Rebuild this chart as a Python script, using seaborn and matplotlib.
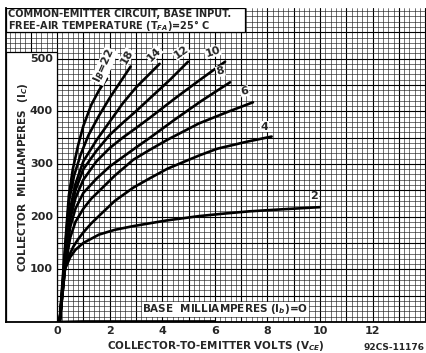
import matplotlib
matplotlib.use("Agg")
import matplotlib.pyplot as plt
import seaborn as sns
import pandas as pd
from matplotlib.ticker import MultipleLocator, FuncFormatter
from matplotlib.patches import Rectangle

# --- Curve data (VCE in volts, IC in mA) ---
ib_values = [0, 2, 4, 6, 8, 10, 12, 14, 18, 22]

vce_ib0 = [0.1, 1.0, 2.0, 3.0, 4.0, 5.0, 6.0]
ic_ib0 = [0, 1, 1, 1, 1, 1, 1]

vce_ib2 = [0.1, 0.2, 0.3, 0.5, 0.7, 1.0, 1.6, 2.2, 2.9, 3.6, 4.2, 5.4, 6.4, 7.3, 8.6, 10.0]
ic_ib2 = [0, 50, 100, 123, 137, 150, 166, 175, 182, 188, 193, 201, 206, 210, 214, 218]

vce_ib4 = [0.1, 0.3, 0.45, 0.62, 0.8, 1.0, 1.3, 1.63, 2.2, 2.9, 3.5, 4.2, 5.4, 6.1, 7.2, 8.16]
ic_ib4 = [0, 100, 125, 143, 157, 170, 187, 203, 230, 255, 272, 291, 316, 329, 342, 352]

vce_ib6 = [0.1, 0.3, 0.5, 0.7, 1.0, 1.3, 1.63, 2.2, 2.9, 3.5, 4.2, 5.4, 6.5, 7.45]
ic_ib6 = [0, 100, 160, 190, 215, 234, 250, 278, 308, 326, 346, 377, 399, 417]

vce_ib8 = [0.1, 0.3, 0.5, 0.7, 1.0, 1.5, 2.0, 2.97, 3.54, 4.5, 5.5, 6.58]
ic_ib8 = [0, 110, 180, 215, 245, 272, 295, 330, 350, 385, 420, 455]

vce_ib10 = [0.1, 0.3, 0.5, 0.7, 1.0, 1.5, 2.0, 2.5, 3.0, 3.54, 4.5, 5.5, 6.39]
ic_ib10 = [0, 115, 195, 235, 270, 305, 330, 350, 368, 388, 425, 462, 494]

vce_ib12 = [0.1, 0.3, 0.5, 0.7, 1.0, 1.5, 2.0, 2.5, 3.0, 3.54, 4.3, 4.98]
ic_ib12 = [0, 118, 205, 250, 290, 325, 355, 378, 400, 425, 460, 494]

vce_ib14 = [0.1, 0.3, 0.5, 0.7, 1.0, 1.5, 2.0, 2.5, 3.0, 3.5, 3.9]
ic_ib14 = [0, 120, 215, 262, 305, 345, 380, 415, 445, 470, 490]

vce_ib18 = [0.1, 0.3, 0.45, 0.65, 0.9, 1.2, 1.6, 2.0, 2.4, 2.8]
ic_ib18 = [0, 130, 228, 278, 318, 355, 392, 425, 455, 485]

vce_ib22 = [0.1, 0.3, 0.45, 0.6, 0.8, 1.0, 1.3, 1.6, 1.9]
ic_ib22 = [0, 140, 240, 290, 335, 372, 412, 440, 462]

curve_labels = ["2", "4", "6", "8", "10", "12", "14", "18", "I$_B$=22"]
label_rot = [0, 0, 12, 15, 18, 35, 45, 60, 66]
label_dx = [-4, -5, -6, -7, -9, -5, -4, -3, -2]   # points
label_dy = [8, 7, 8, 8, 7, 7, 7, 7, 9]

x_ticks = [0, 2, 4, 6, 8, 10, 12]
y_ticks = [100, 200, 300, 400, 500]

curves = [(vce_ib0, ic_ib0), (vce_ib2, ic_ib2), (vce_ib4, ic_ib4), (vce_ib6, ic_ib6),
          (vce_ib8, ic_ib8), (vce_ib10, ic_ib10), (vce_ib12, ic_ib12),
          (vce_ib14, ic_ib14), (vce_ib18, ic_ib18), (vce_ib22, ic_ib22)]

rows = []
for ib, (vs, cs) in zip(ib_values, curves):
    for v, c in zip(vs, cs):
        rows.append({"ib": ib, "vce": v, "ic": c})
df = pd.DataFrame(rows)

sns.set_style("white")
plt.rcParams['font.family'] = ['DejaVu Sans']
plt.rcParams['font.weight'] = 'bold'

fig = plt.figure(figsize=(4.26, 3.53), dpi=100)
ax = fig.add_axes([6 / 426, 31 / 353, 420 / 426, 314 / 353])

ax.set_xlim(-1.94, 14.03)
ax.set_ylim(0, 596)

# graph-paper grid
ax.xaxis.set_major_locator(MultipleLocator(1))
ax.xaxis.set_minor_locator(MultipleLocator(0.2))
ax.yaxis.set_major_locator(MultipleLocator(50))
ax.yaxis.set_minor_locator(MultipleLocator(10))
ax.grid(which='major', color='black', linewidth=0.8)
ax.grid(which='minor', color='#222222', linewidth=0.45)
ax.set_axisbelow(True)
ax.tick_params(which='both', length=0)
ax.xaxis.set_major_formatter(FuncFormatter(
    lambda v, p: "%d" % v if (round(v) in x_ticks and abs(v - round(v)) < 1e-6) else ""))
ax.tick_params(axis='x', labelsize=8, pad=3)
ax.set_yticklabels([])

for s in ['top', 'right']:
    ax.spines[s].set_visible(False)
for s in ['left', 'bottom']:
    ax.spines[s].set_color('black')
    ax.spines[s].set_linewidth(1.3)

sns.lineplot(data=df, x="vce", y="ic", units="ib", estimator=None, sort=False,
             color="black", linewidth=1.9, ax=ax, legend=False, zorder=3)

# white boxes for title and y labels
ax.add_patch(Rectangle((-1.94, 0), 1.94, 512, facecolor='white', edgecolor='black',
                       linewidth=0.9, zorder=2))
ax.add_patch(Rectangle((-1.94, 550), 9.1, 46, facecolor='white', edgecolor='black',
                       linewidth=0.9, zorder=2))

for yv in y_ticks:
    ax.text(-0.15, yv, str(yv), ha='right', va='center', fontsize=8, zorder=4)

ax.text(-1.85, 584, "COMMON-EMITTER CIRCUIT, BASE INPUT.", ha='left', va='center',
        fontsize=7, zorder=4)
ax.text(-1.85, 563, "FREE-AIR TEMPERATURE (T$_{FA}$)=25° C", ha='left', va='center',
        fontsize=7, zorder=4)
ax.text(-1.3, 275, "COLLECTOR  MILLIAMPERES  (I$_C$)", rotation=90, ha='center',
        va='center', fontsize=7.5, zorder=4)

# curve labels
for (vs, cs), lab, rot, dx, dy in zip(curves[1:], curve_labels, label_rot, label_dx, label_dy):
    ax.annotate(lab, (vs[-1], cs[-1]), xytext=(dx, dy), textcoords='offset points',
                ha='center', va='center', rotation=rot, fontsize=8, zorder=5,
                bbox=dict(facecolor='white', edgecolor='none', pad=0.3))

ax.text(6.4, 24, "BASE  MILLIAMPERES (I$_b$)=O", ha='center', va='center', fontsize=7.5,
        zorder=5, bbox=dict(facecolor='white', edgecolor='none', pad=0.5))

ax.set_xlabel("")
ax.set_ylabel("")
fig.text(216 / 426, 1 - 346 / 353, "COLLECTOR-TO-EMITTER VOLTS (V$_{CE}$)", ha='center',
         va='center', fontsize=7.5)
fig.text(394 / 426, 1 - 347 / 353, "92CS-11176", ha='center', va='center', fontsize=6.5)

fig.savefig("out.png", dpi=100)
